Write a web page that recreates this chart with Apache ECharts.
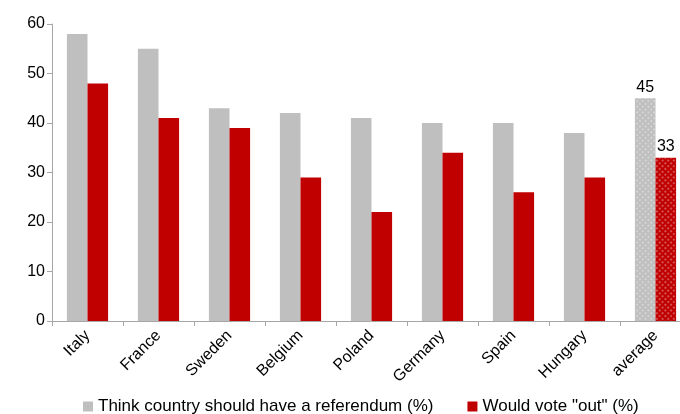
<!DOCTYPE html>
<html>
<head>
<meta charset="utf-8">
<script src="https://cdn.jsdelivr.net/npm/echarts@6/dist/echarts.min.js"></script>
<style>
  html, body { margin: 0; padding: 0; background: #fff; overflow: hidden; }
  /* the original chart is cut off on the right, so the canvas is a bit wider than the window */
  #chart { width: 691px; height: 414px; }
</style>
</head>
<body>
<div id="chart"></div>
<script>
const categories = ['Italy', 'France', 'Sweden', 'Belgium', 'Poland', 'Germany', 'Spain', 'Hungary', 'average'];
const referendum = [58, 55, 43, 42, 41, 40, 40, 38, 45];
const voteOut = [48, 41, 39, 29, 22, 34, 26, 29, 33];
const yTicks = [0, 10, 20, 30, 40, 50, 60];

const GREY = '#BFBFBF';
const RED = '#C00000';
const FONT = 'Liberation Sans, Arial, sans-serif';

// the last category (average) is drawn with a dotted texture and a value label
function toItems(values, color) {
  return values.map((v, i) => {
    if (i !== values.length - 1) return v;
    return {
      value: v,
      itemStyle: {
        color: color,
        decal: {
          symbol: 'circle',
          symbolSize: 0.8,
          color: 'rgba(255,255,255,0.7)',
          dashArrayX: [[4, 0]],
          dashArrayY: [2, 2],
          rotation: Math.PI / 4
        }
      },
      label: { show: true, position: 'top', distance: 3, color: '#000', fontSize: 16, fontFamily: FONT }
    };
  });
}

const chart = echarts.init(document.getElementById('chart'));
chart.setOption({
  animation: false,
  grid: { left: 52, top: 24, right: 0, bottom: 93, containLabel: false },
  legend: {
    top: 393,
    left: 78,
    itemWidth: 10,
    itemHeight: 10,
    itemGap: 34,
    icon: 'rect',
    textStyle: { fontSize: 17, color: '#000', fontFamily: FONT },
    data: ['Think country should have a referendum (%)', 'Would vote "out" (%)']
  },
  xAxis: {
    type: 'category',
    data: categories,
    axisLine: { lineStyle: { color: '#A6A6A6' } },
    axisTick: { show: true, length: 5, lineStyle: { color: '#A6A6A6' } },
    axisLabel: { rotate: 45, color: '#000', fontSize: 16, fontFamily: FONT, margin: 12, interval: 0 }
  },
  yAxis: {
    type: 'value',
    min: yTicks[0],
    max: yTicks[yTicks.length - 1],
    interval: 10,
    splitLine: { show: false },
    axisLine: { show: true, lineStyle: { color: '#A6A6A6' } },
    axisTick: { show: true, length: 5, lineStyle: { color: '#A6A6A6' } },
    axisLabel: { color: '#000', fontSize: 16, fontFamily: FONT, margin: 7 }
  },
  series: [
    {
      name: 'Think country should have a referendum (%)',
      type: 'bar',
      data: toItems(referendum, GREY),
      itemStyle: { color: GREY },
      barGap: '0%',
      barCategoryGap: '42%'
    },
    {
      name: 'Would vote "out" (%)',
      type: 'bar',
      data: toItems(voteOut, RED),
      itemStyle: { color: RED }
    }
  ]
});
</script>
</body>
</html>
